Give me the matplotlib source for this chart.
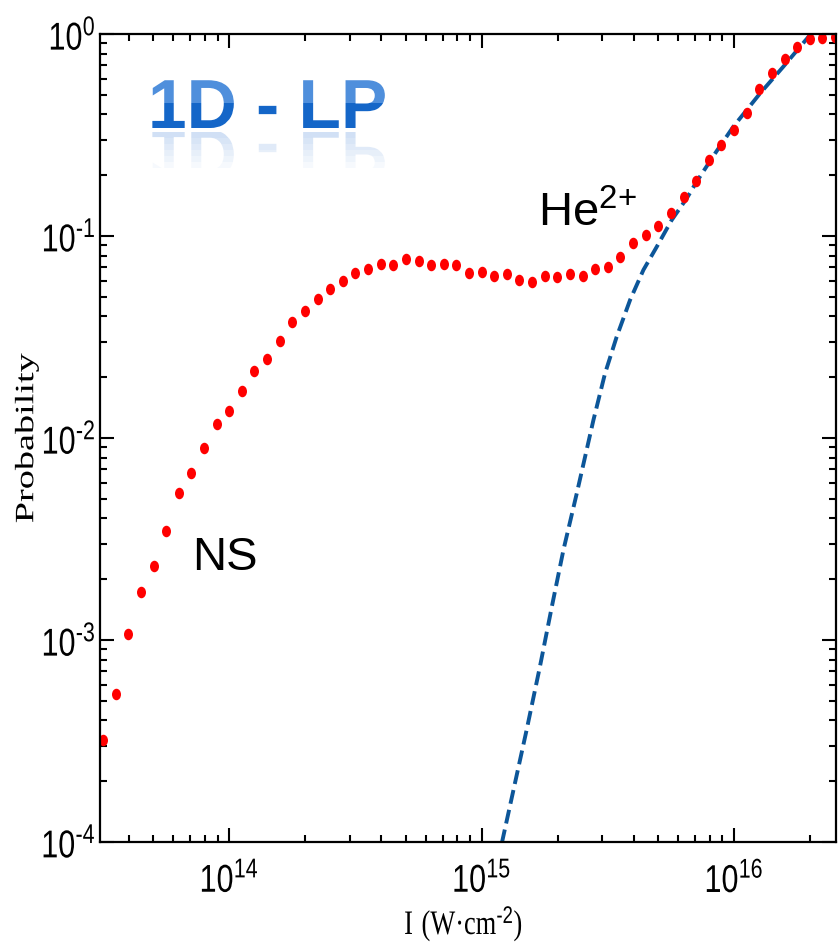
import numpy as np
import matplotlib.pyplot as plt
from matplotlib.patheffects import AbstractPathEffect
from matplotlib.transforms import Affine2D, Bbox
from matplotlib.colors import to_rgba
from matplotlib.path import Path
from matplotlib.ticker import LogLocator, FixedLocator, FixedFormatter, NullFormatter

plt.rcParams['mathtext.fontset'] = 'custom'
plt.rcParams['mathtext.rm'] = 'Liberation Sans'

# NS probability, on a log grid of intensities 10^13.5 ... 10^16.4 (step 0.05 decade)
intensity = np.logspace(13.5, 16.4, 59)
ns_prob = [3.20e-4, 5.41e-4, 1.07e-3, 1.73e-3, 2.33e-3, 3.47e-3, 5.36e-3, 6.69e-3,
           8.95e-3, 1.17e-2, 1.36e-2, 1.70e-2, 2.14e-2, 2.47e-2, 3.02e-2, 3.75e-2,
           4.24e-2, 4.88e-2, 5.45e-2, 5.97e-2, 6.54e-2, 6.87e-2, 7.29e-2, 7.18e-2,
           7.67e-2, 7.52e-2, 7.18e-2, 7.27e-2, 7.18e-2, 6.56e-2, 6.64e-2, 6.34e-2,
           6.46e-2, 6.05e-2, 5.94e-2, 6.34e-2, 6.29e-2, 6.46e-2, 6.36e-2, 6.89e-2,
           7.05e-2, 7.90e-2, 9.27e-2, 0.1008, 0.1125, 0.1303, 0.1566, 0.187,
           0.238, 0.282, 0.335, 0.405, 0.536, 0.639, 0.755, 0.865,
           0.942, 0.959, 0.970]

# sequential double ionization He2+ (dashed curve)
seq_I = [1.202e15, 1.337e15, 1.507e15, 1.702e15, 1.897e15, 2.109e15, 2.382e15,
         2.773e15, 3.083e15, 3.428e15, 3.873e15, 4.375e15, 4.943e15, 5.662e15,
         6.501e15, 7.112e15, 8.414e15, 9.931e15, 1.268e16, 1.567e16, 2.000e16]
seq_prob = [9.86e-5, 1.81e-4, 3.58e-4, 7.38e-4, 1.46e-3, 2.79e-3, 5.32e-3,
            1.227e-2, 2.089e-2, 3.170e-2, 4.819e-2, 6.792e-2, 8.851e-2, 0.1199,
            0.1538, 0.1858, 0.2564, 0.3475, 0.5082, 0.6887, 0.9886]

x_major = [1e14, 1e15, 1e16]
x_labels = [r'$\mathregular{10^{14}}$', r'$\mathregular{10^{15}}$', r'$\mathregular{10^{16}}$']
y_major = [1e-4, 1e-3, 1e-2, 1e-1, 1e0]
y_labels = [r'$\mathregular{10^{\text{-4}}}$', r'$\mathregular{10^{\text{-3}}}$',
            r'$\mathregular{10^{\text{-2}}}$', r'$\mathregular{10^{\text{-1}}}$',
            r'$\mathregular{10^{0}}$']

W, H = 839, 949


class Band(AbstractPathEffect):
    # fills the text path only inside a horizontal band (display px), optionally mirrored
    def __init__(self, lo, hi, color, alpha=1.0, mirror=None):
        super().__init__()
        self.lo, self.hi = lo, hi
        self.color = to_rgba(color)
        self.alpha = alpha
        self.mirror = mirror

    def draw_path(self, renderer, gc, tpath, affine, rgbFace=None):
        gc0 = renderer.new_gc()
        gc0.copy_properties(gc)
        gc0.set_alpha(self.alpha)
        gc0.set_clip_rectangle(Bbox.from_extents(0, self.lo, W, self.hi))
        if self.mirror is not None:
            affine = affine + Affine2D().scale(1, -1).translate(0, 2 * self.mirror)
        renderer.draw_path(gc0, tpath, affine, self.color)
        gc0.restore()


class Stretch(AbstractPathEffect):
    # stretches the text glyphs about the centre of their ink box
    def __init__(self, sx=1.0, sy=1.0):
        super().__init__()
        self.sx, self.sy = sx, sy

    def draw_path(self, renderer, gc, tpath, affine, rgbFace=None):
        ext = affine.transform_path(tpath).get_extents()
        cx, cy = (ext.x0 + ext.x1) / 2, (ext.y0 + ext.y1) / 2
        tr = affine + Affine2D().translate(-cx, -cy).scale(self.sx, self.sy).translate(cx, cy)
        renderer.draw_path(gc, tpath, tr, rgbFace)


fig = plt.figure(figsize=(W / 100, H / 100), dpi=100)
ax = fig.add_axes([100 / W, 1 - 842 / H, 736 / W, 808 / H])

dot = Path.unit_circle().transformed(Affine2D().scale(0.78, 1.0))
ax.plot(seq_I, seq_prob, '--', color='#0c5699', lw=2.8, dashes=(3.6, 1.6))
ax.plot(intensity, ns_prob, ls='none', marker=dot, color='#ff0000', ms=8.3, mew=0)

ax.set_xscale('log')
ax.set_yscale('log')
ax.set_xlim(10 ** 13.488, 10 ** 16.404)
ax.set_ylim(1e-4, 1)

ax.xaxis.set_major_locator(FixedLocator(x_major))
ax.xaxis.set_major_formatter(FixedFormatter(x_labels))
ax.yaxis.set_major_locator(FixedLocator(y_major))
ax.yaxis.set_major_formatter(FixedFormatter(y_labels))
ax.xaxis.set_minor_locator(LogLocator(base=10, subs=np.arange(2, 10), numticks=20))
ax.yaxis.set_minor_locator(LogLocator(base=10, subs=np.arange(2, 10), numticks=20))
ax.xaxis.set_minor_formatter(NullFormatter())
ax.yaxis.set_minor_formatter(NullFormatter())

ax.tick_params(which='both', direction='in', top=True, right=True, width=1.5)
ax.tick_params(which='major', length=10)
ax.tick_params(which='minor', length=5)
ax.tick_params(axis='x', which='major', pad=16)
ax.tick_params(axis='y', which='major', pad=3)
for lab in ax.get_xticklabels() + ax.get_yticklabels():
    lab.set_family('Liberation Sans')
    lab.set_fontsize(22)
    lab.set_path_effects([Stretch(sy=1.27)])
for s in ax.spines.values():
    s.set_linewidth(1.6)

ax.set_ylabel('Probability', family='Liberation Serif', fontsize=19,
              path_effects=[Stretch(sy=1.45)])
ax.yaxis.set_label_coords(-0.084, 0.5)
ax.set_xlabel(r'$\mathregular{I\ (W·cm^{\text{-2}})}$', family='Liberation Serif', fontsize=19,
              path_effects=[Stretch(sy=1.3)])
ax.xaxis.set_label_coords(0.494, -0.083)

ax.text(192 / W, 1 - 570 / H, 'NS', transform=fig.transFigure, family='Liberation Sans',
        fontsize=34, va='baseline', ha='left')
ax.text(538 / W, 1 - 226 / H, r'$\mathregular{He^{\text{2+}}}$', transform=fig.transFigure,
        family='Liberation Sans', fontsize=34, va='baseline', ha='left')

# "1D - LP" glossy title with reflection
base = H - 128
effects = [Band(H - 103, H - 60, '#4f8fdc'), Band(base - 3, H - 103, '#1466c8')]
for i in range(6):
    lo = base - 4 - 6 * (i + 1)
    effects.append(Band(lo, lo + 6, '#7aa6e2', alpha=0.34 - 0.055 * i, mirror=base - 1))
fig.text(148 / W, base / H, '1D - LP', family='Liberation Sans', weight='bold',
         fontsize=50, va='baseline', ha='left', color='#1466c8', path_effects=effects)

fig.savefig('out.png', dpi=100)
